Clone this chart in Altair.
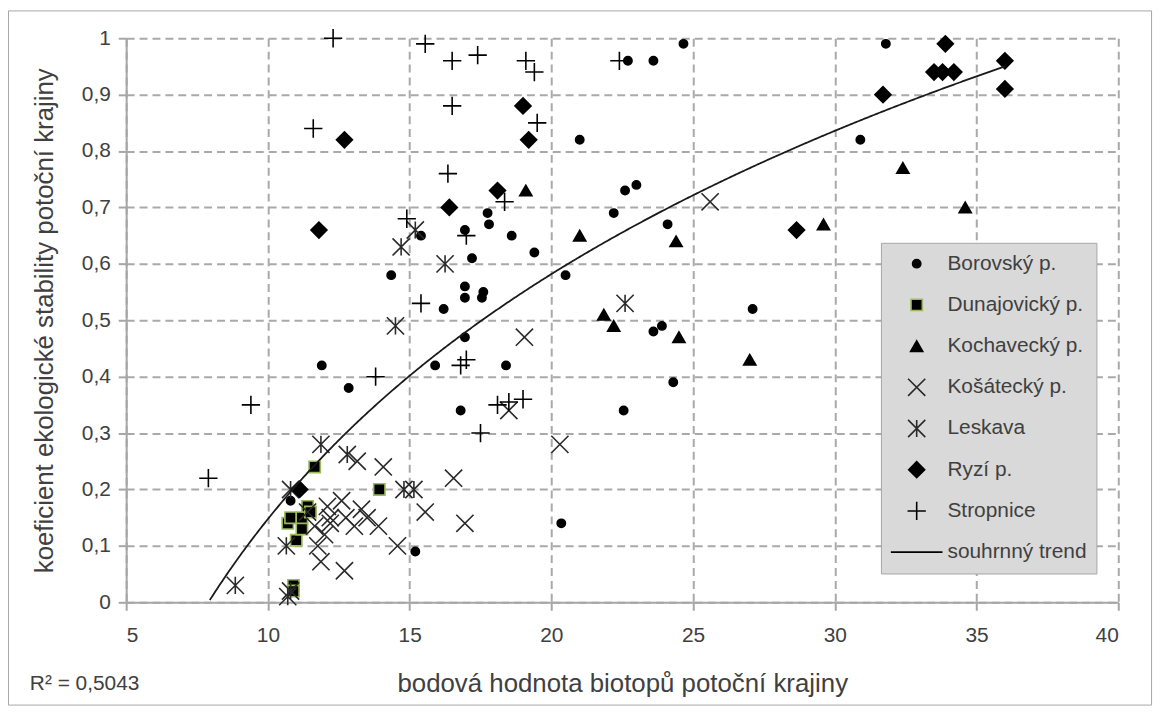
import altair as alt
import pandas as pd

# ---------------- data ----------------
SERIES = ["Borovský p.", "Dunajovický p.", "Kochavecký p.", "Košátecký p.",
          "Leskava", "Ryzí p.", "Stropnice", "souhrnný trend"]

bor_x = [10.8, 11.9, 12.85, 14.35, 15.2, 15.4, 15.9, 16.2, 16.8, 16.95, 16.95, 16.95, 16.95,
         17.2, 17.55, 17.6, 17.75, 17.8, 18.4, 18.6, 19.4, 20.35, 20.5, 21.0, 22.2, 22.55,
         22.6, 22.7, 23.0, 23.6, 23.6, 23.9, 24.1, 24.3, 24.66, 27.1, 30.9, 31.8]
bor_y = [0.18, 0.42, 0.38, 0.58, 0.09, 0.65, 0.42, 0.52, 0.34, 0.47, 0.54, 0.56, 0.66,
         0.61, 0.54, 0.55, 0.69, 0.67, 0.42, 0.65, 0.62, 0.14, 0.58, 0.82, 0.69, 0.34,
         0.73, 0.96, 0.74, 0.48, 0.96, 0.49, 0.67, 0.39, 0.99, 0.52, 0.82, 0.99]

dun_x = [10.7, 10.8, 10.9, 10.9, 11.0, 11.2, 11.2, 11.4, 11.5, 11.65, 13.93]
dun_y = [0.14, 0.15, 0.03, 0.02, 0.11, 0.13, 0.15, 0.17, 0.16, 0.24, 0.20]

koc_x = [19.1, 21.0, 21.85, 22.2, 24.4, 24.5, 27.0, 29.6, 32.4, 34.6]
koc_y = [0.73, 0.65, 0.51, 0.49, 0.64, 0.47, 0.43, 0.67, 0.77, 0.70]

kos_x = [11.4, 11.65, 11.76, 11.87, 12.0, 12.1, 12.2, 12.2, 12.6, 12.7, 12.75, 13.05, 13.15,
         13.3, 13.5, 13.9, 14.07, 14.57, 15.55, 16.55, 16.95, 18.5, 19.05, 20.3, 25.6]
kos_y = [0.16, 0.135, 0.10, 0.072, 0.12, 0.17, 0.15, 0.14, 0.18, 0.056, 0.15, 0.135, 0.25,
         0.165, 0.15, 0.135, 0.24, 0.10, 0.16, 0.22, 0.14, 0.34, 0.47, 0.28, 0.71]

les_x = [8.85, 10.65, 10.7, 10.8, 10.8, 11.87, 12.8, 14.5, 14.8, 14.7, 15.15, 15.2, 16.25, 22.6]
les_y = [0.03, 0.10, 0.01, 0.02, 0.20, 0.28, 0.262, 0.49, 0.20, 0.63, 0.20, 0.66, 0.60, 0.53]

ryz_x = [11.12, 11.8, 12.7, 16.4, 18.1, 19.0, 19.2, 28.65, 31.7, 33.5, 33.8, 33.9, 34.2, 36.0, 36.0]
ryz_y = [0.20, 0.66, 0.82, 0.70, 0.73, 0.88, 0.82, 0.66, 0.90, 0.94, 0.94, 0.99, 0.94, 0.91, 0.96]

str_x = [7.9, 9.4, 11.6, 12.3, 13.8, 14.9, 15.4, 15.55, 16.35, 16.5, 16.5, 16.8, 17.0, 17.0,
         17.4, 17.5, 18.1, 18.35, 18.5, 19.0, 19.1, 19.4, 19.5, 22.4]
str_y = [0.22, 0.35, 0.84, 1.00, 0.40, 0.68, 0.53, 0.99, 0.76, 0.96, 0.88, 0.42, 0.43, 0.65,
         0.97, 0.30, 0.35, 0.71, 0.355, 0.36, 0.96, 0.94, 0.85, 0.96]

# logarithmic trend y = a*ln(x) + b (as drawn in the reference)
TREND_A = 0.6264
TREND_B = -1.2947
R2_LABEL = "R² = 0,5043"

X_TICKS = [5, 10, 15, 20, 25, 30, 35, 40]
Y_TICKS = [0, 0.1, 0.2, 0.3, 0.4, 0.5, 0.6, 0.7, 0.8, 0.9, 1.0]

X_TITLE = "bodová hodnota biotopů potoční krajiny"
Y_TITLE = "koeficient ekologické stability potoční krajiny"

# ---------------- build tables ----------------
groups = [(SERIES[0], bor_x, bor_y), (SERIES[1], dun_x, dun_y), (SERIES[2], koc_x, koc_y),
          (SERIES[3], kos_x, kos_y), (SERIES[4], les_x, les_y), (SERIES[5], ryz_x, ryz_y),
          (SERIES[6], str_x, str_y)]
rows = []
for name, xs_, ys_ in groups:
    rows += [{"x": a, "y": b, "series": name} for a, b in zip(xs_, ys_)]
points = pd.DataFrame(rows)
x_lo = float(points["x"].min())
x_hi = float(points["x"].max())

# ---------------- styling ----------------
W, H = 999, 568
FONT = "Liberation Sans"
TXT = "#404040"
GRID = "#a9a9a9"

PLUS = "M-1,0L1,0M0,-1L0,1"
CROSS = "M-1,-1L1,1M-1,1L1,-1"
STAR = "M-1,-1L1,1M-1,1L1,-1M0,-1L0,1"

shape_range = ["circle", "square", "triangle-up", CROSS, STAR, "diamond", PLUS, "stroke"]
size_range = [70, 130, 150, 300, 300, 260, 340, 2704]
fill_range = ["#000000", "#000000", "#000000", "transparent", "transparent", "#000000",
              "transparent", "#000000"]
stroke_range = ["#000000", "#9bbb59", "#000000", "#2a2a2a", "#2a2a2a", "#000000", "#000000",
                "#000000"]

xs = alt.Scale(domain=[5, 40], nice=False, zero=False)
ys = alt.Scale(domain=[0, 1], nice=False, zero=True)

legend = alt.Legend(
    title=None, orient="none", legendX=760, legendY=206,
    fillColor="#d9d9d9", strokeColor="#a6a6a6", padding=9,
    labelFont=FONT, labelFontSize=21, labelColor=TXT, labelLimit=400,
    symbolStrokeWidth=1.6, symbolOffset=0, labelOffset=4,
    rowPadding=17.5, clipHeight=24,
)

x_enc = alt.X("x:Q", scale=xs, axis=alt.Axis(
    values=X_TICKS, title=X_TITLE, titleX=W / 2, titleY=82, titleBaseline="middle",
    titleAnchor="middle", titleAlign="center"))
y_enc = alt.Y("y:Q", scale=ys, axis=alt.Axis(
    values=Y_TICKS, title=Y_TITLE, titleX=-82, titleY=H / 2, titleBaseline="middle",
    titleAlign="center", titleAngle=-90,
    labelExpr="replace(format(datum.value, '.1~f'), '.', ',')"))

pts = alt.Chart(points).mark_point(opacity=1, strokeWidth=1.6).encode(
    x=x_enc, y=y_enc,
    shape=alt.Shape("series:N", scale=alt.Scale(domain=SERIES, range=shape_range), legend=legend),
    fill=alt.Fill("series:N", scale=alt.Scale(domain=SERIES, range=fill_range), legend=legend),
    stroke=alt.Stroke("series:N", scale=alt.Scale(domain=SERIES, range=stroke_range), legend=legend),
    size=alt.Size("series:N", scale=alt.Scale(type="ordinal", domain=SERIES, range=size_range),
                  legend=legend),
)

trend = alt.Chart(alt.sequence(x_lo, x_hi + 0.001, 0.05, as_="x")).transform_calculate(
    y=f"{TREND_A}*log(datum.x)+({TREND_B})"
).transform_filter("datum.y >= 0").mark_line(color="#1a1a1a", strokeWidth=1.8).encode(
    x=alt.X("x:Q", scale=xs), y=alt.Y("y:Q", scale=ys))

frame = alt.Chart(pd.DataFrame({"k": [0]})).mark_rect(
    fill="transparent", stroke="#a6a6a6", strokeWidth=1).encode(
    x=alt.value(-118.5), x2=alt.value(1032.5), y=alt.value(-27.5), y2=alt.value(671.5))

r2 = alt.Chart(pd.DataFrame({"t": [R2_LABEL]})).mark_text(
    align="left", baseline="middle", font=FONT, fontSize=21, color=TXT).encode(
    text="t:N", x=alt.value(-97), y=alt.value(650))

chart = alt.layer(frame, pts, trend, r2).properties(
    width=W, height=H,
    autosize=alt.AutoSizeParams(type="none"),
    padding={"left": 119, "top": 28, "right": 41, "bottom": 104},
    background="white",
).configure_view(stroke=None).configure_axis(
    labelFont=FONT, labelFontSize=21, labelColor=TXT,
    titleFont=FONT, titleFontSize=26, titleColor=TXT, titleFontWeight="normal",
    domainColor="#a6a6a6", domainWidth=2, tickColor="#a6a6a6", tickWidth=2, tickSize=8,
    gridColor=GRID, gridDash=[8, 5], gridWidth=2, labelPadding=8,
).configure_axisX(labelPadding=14)

chart.save("out.html", embed_options={"renderer": "svg", "actions": False})
